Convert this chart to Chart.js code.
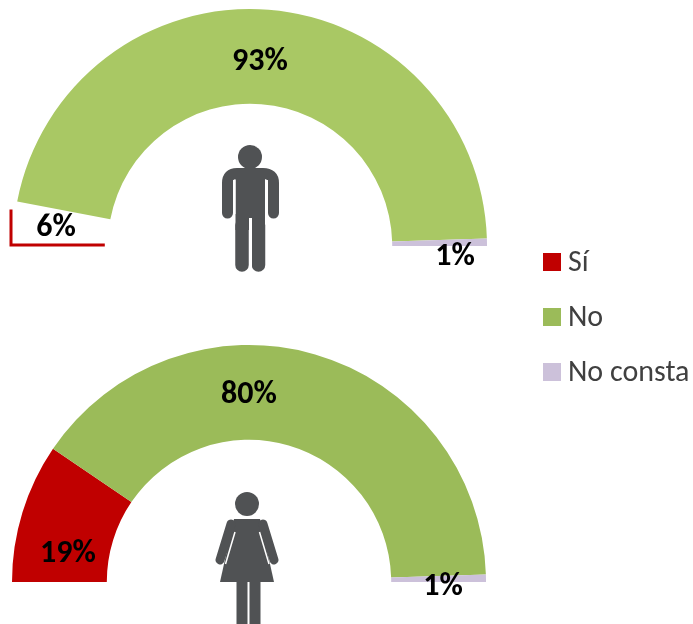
<!DOCTYPE html>
<html>
<head>
<meta charset="utf-8">
<script src="https://cdn.jsdelivr.net/npm/chart.js@4/dist/chart.umd.js"></script>
<style>
  html, body { margin: 0; padding: 0; background: #fff; }
  #page { position: relative; width: 693px; height: 624px; overflow: hidden; }
  canvas { position: absolute; left: 0; }
  #hombres__chart { top: 0; }
  #mujeres__chart { top: 312px; }
  svg { position: absolute; left: 0; top: 0; filter: blur(0.5px); }
  .legend__item { position: absolute; left: 543px; height: 30px; line-height: 30px; font: 30px Carlito, "Open Sans", sans-serif; color: #404040; white-space: nowrap; }
  .legend__box { position: absolute; left: 0; top: 5px; width: 18px; height: 18px; }
  .legend__text { position: absolute; left: 25px; top: -6px; }
</style>
</head>
<body>
<div id="page">
  <canvas id="hombres__chart" width="693" height="312" style="width:693px;height:312px"></canvas>
  <canvas id="mujeres__chart" width="693" height="312" style="width:693px;height:312px"></canvas>
  <svg width="693" height="624" viewBox="0 0 693 624" fill="#505254">
    <!-- hombre -->
    <circle cx="250" cy="157" r="12"/>
    <path d="M227.5 213V183Q227.5 173.500 237 173.500H263Q273.500 173.500 273.500 183V213" fill="none" stroke="#505254" stroke-width="11" stroke-linecap="round"/>
    <rect x="235.500" y="170" width="29.500" height="60"/>
    <path d="M242 225V265M258.500 225V265" stroke="#505254" stroke-width="13.500" stroke-linecap="round"/>
    <path d="M250.500 218V272" stroke="#fff" stroke-width="3"/>
    <path d="M234.300 180V214M266.700 180V214" stroke="#fff" stroke-width="2.500"/>
    <!-- mujer -->
    <circle cx="247" cy="504" r="12"/>
    <path d="M234 519H260L274 582H220Z"/>
    <path d="M231 524L220 560M263 524L274 560" stroke="#505254" stroke-width="9" stroke-linecap="round"/>
    <path d="M235 532L225.500 564M259.500 532L269 564" stroke="#fff" stroke-width="1.500"/>
    <path d="M242 580V630M255 580V630" stroke="#505254" stroke-width="11"/>
  </svg>
  <div id="legend"></div>
</div>
<script>
const categories = ['Sí', 'No', 'No consta'];
const hombresValues = [6, 93, 1];
const mujeresValues = [19, 80, 1];

const hombresColors = ['#ffffff', '#a9c864', '#ccc1da'];
const mujeresColors = ['#c00000', '#9bbb59', '#ccc1da'];
const legendColors = ['#c00000', '#9bbb59', '#ccc1da'];

// where each value label sits, measured from the centre of the half ring
const hombresSpots = [[-194, -18], [10, -184], [205, 11]];
const mujeresSpots = [[-181, -28], [0, -187], [194, 5]];

Chart.defaults.animation = false;
Chart.defaults.plugins.legend.display = false;

const arcLabels = {
  id: 'arcLabels',
  afterDatasetsDraw(chart, args, opts) {
    const ctx = chart.ctx;
    const arcs = chart.getDatasetMeta(0).data;
    ctx.save();
    ctx.font = 'bold 32px Carlito, "Open Sans", sans-serif';
    ctx.fillStyle = '#000';
    ctx.textAlign = 'center';
    ctx.textBaseline = 'middle';
    arcs.forEach((arc, i) => {
      const value = chart.data.datasets[0].data[i];
      ctx.fillText(value + '%', arc.x + opts.spots[i][0], arc.y + opts.spots[i][1]);
    });
    ctx.restore();
  },
};

// the white "Sí" slice of the men's gauge only has a red corner, no fill
const cornerOutline = {
  id: 'cornerOutline',
  afterDatasetsDraw(chart, args, opts) {
    if (!opts.color) return;
    const ctx = chart.ctx;
    const arc = chart.getDatasetMeta(0).data[0];
    const left = arc.x - arc.outerRadius - 2;
    const rise = Math.sin(arc.endAngle - Math.PI) * arc.outerRadius - 8;
    ctx.save();
    ctx.strokeStyle = opts.color;
    ctx.lineWidth = 3;
    ctx.beginPath();
    ctx.moveTo(left, arc.y - rise);
    ctx.lineTo(left, arc.y - 1);
    ctx.lineTo(arc.x - arc.innerRadius - 3, arc.y - 1);
    ctx.stroke();
    ctx.restore();
  },
};

function drawGauge(id, values, colors, spots, padding, outline) {
  const canvas = document.getElementById(id);
  return new Chart(canvas.getContext('2d'), {
    type: 'doughnut',
    data: {
      labels: categories,
      datasets: [{ data: values, backgroundColor: colors, borderWidth: 0 }],
    },
    options: {
      responsive: false,
      rotation: -90,
      circumference: 180,
      cutout: '60%',
      layout: { padding },
      plugins: {
        arcLabels: { spots },
        cornerOutline: { color: outline },
        tooltip: { enabled: false },
      },
    },
    plugins: [cornerOutline, arcLabels],
  });
}

drawGauge('hombres__chart', hombresValues, hombresColors, hombresSpots,
  { left: 13, right: 206, top: 9, bottom: 66 }, '#c00000');
drawGauge('mujeres__chart', mujeresValues, mujeresColors, mujeresSpots,
  { left: 12, right: 207, top: 33, bottom: 42 }, null);

const legendTops = [248, 303, 358];
const legend = document.getElementById('legend');
categories.forEach((name, i) => {
  const item = document.createElement('div');
  item.className = 'legend__item';
  item.style.top = legendTops[i] + 'px';
  item.innerHTML = '<span class="legend__box" style="background:' + legendColors[i] + '"></span>' +
    '<span class="legend__text">' + name + '</span>';
  legend.appendChild(item);
});
</script>
</body>
</html>
